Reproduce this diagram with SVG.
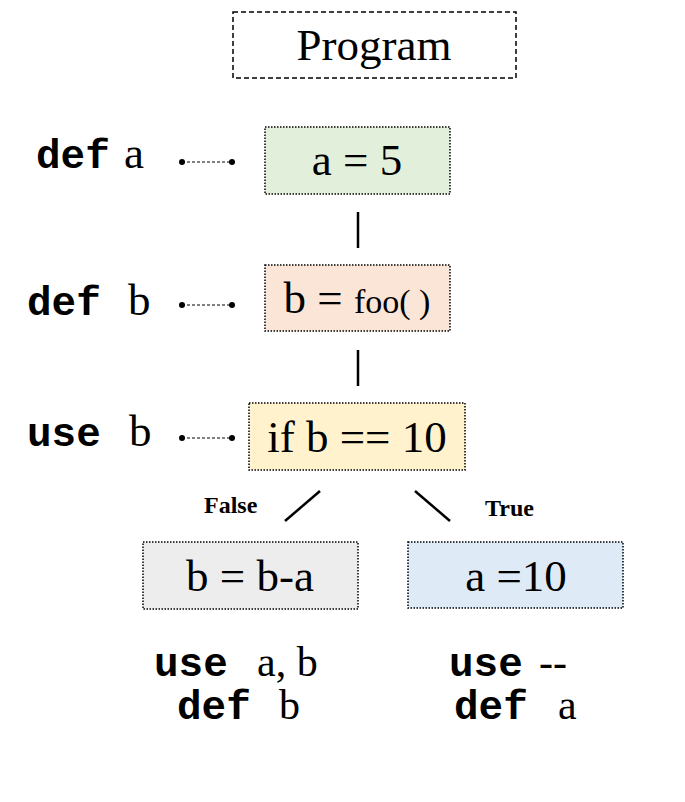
<svg xmlns="http://www.w3.org/2000/svg" width="685" height="802" viewBox="0 0 685 802">
<style>
.box{stroke:#000;stroke-width:1.5;stroke-dasharray:1.5 1.5}
.t{font-family:"Liberation Serif",serif;font-size:45px;fill:#000;text-anchor:middle}
.s{font-family:"Liberation Serif",serif;font-size:45px;fill:#000}
.sb{font-family:"Liberation Serif",serif;font-size:42px;fill:#000}
.m{font-family:"Liberation Mono",monospace;font-size:41px;font-weight:bold;fill:#000}
.lbl{font-family:"Liberation Serif",serif;font-size:24px;font-weight:bold;fill:#000}
.c{stroke:#000;stroke-width:2.5;fill:none}
.d{stroke:#000;stroke-width:1;stroke-dasharray:3 2;fill:none}
</style>
<rect width="685" height="802" fill="#fff"/>
<g id="program">
<rect x="233" y="12" width="283" height="66" fill="#fff" stroke="#000" stroke-width="1.5" stroke-dasharray="5 3"/>
<text x="374" y="60" class="t">Program</text>
</g>
<g id="node-a5">
<rect class="box" x="265" y="127" width="185" height="67" fill="#e2efda"/>
<text x="357" y="175" class="t">a = 5</text>
</g>
<g id="node-bfoo">
<rect class="box" x="265" y="265" width="185" height="66" fill="#fbe5d6"/>
<text x="357" y="313" class="t">b = <tspan style="font-size:34px">foo( )</tspan></text>
</g>
<g id="node-if">
<rect class="box" x="249" y="403" width="216" height="67" fill="#fff2cc"/>
<text x="357" y="452" class="t">if b == 10</text>
</g>
<g id="node-bba">
<rect class="box" x="143" y="542" width="215" height="67" fill="#ededed"/>
<text x="250" y="591" class="t">b = b-a</text>
</g>
<g id="node-a10">
<rect class="box" x="408" y="542" width="215" height="66" fill="#deebf7"/>
<text x="516" y="591" class="t">a =10</text>
</g>
<g id="connectors">
<line class="c" x1="358" y1="212" x2="358" y2="248"/>
<line class="c" x1="358" y1="350" x2="358" y2="386"/>
<line class="c" x1="320" y1="491" x2="285" y2="521"/>
<line class="c" x1="415" y1="491" x2="450" y2="521"/>
<text x="204" y="513" class="lbl">False</text>
<text x="485" y="516" class="lbl">True</text>
<line class="d" x1="182" y1="162" x2="232" y2="162"/>
<circle cx="182" cy="162" r="3"/><circle cx="232" cy="162" r="3"/>
<line class="d" x1="182" y1="305" x2="232" y2="305"/>
<circle cx="182" cy="305" r="3"/><circle cx="232" cy="305" r="3"/>
<line class="d" x1="182" y1="438" x2="232" y2="438"/>
<circle cx="182" cy="438" r="3"/><circle cx="232" cy="438" r="3"/>
</g>
<g id="annotations">
<text x="36" y="168" class="m">def</text><text x="124" y="168" class="s">a</text>
<text x="27" y="315" class="m">def</text><text x="128" y="315" class="s">b</text>
<text x="27" y="446" class="m">use</text><text x="129" y="446" class="s">b</text>
<text x="154" y="676" class="m">use</text><text x="257" y="676" class="sb">a, b</text>
<text x="177" y="719" class="m">def</text><text x="279" y="719" class="sb">b</text>
<text x="449" y="676" class="m">use</text><text x="539" y="676" class="sb">--</text>
<text x="454" y="719" class="m">def</text><text x="558" y="719" class="sb">a</text>
</g>
</svg>
